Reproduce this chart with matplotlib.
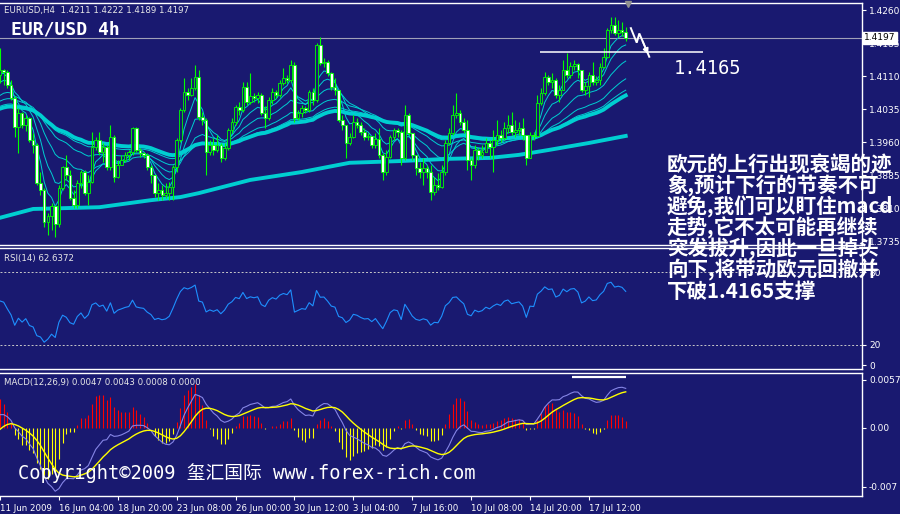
import matplotlib
matplotlib.use("Agg")
import matplotlib.pyplot as plt
import numpy as np

plt.rcParams['font.family'] = ['DejaVu Sans', 'Noto Sans CJK SC']

# ---- data ----
first_open = 1.4113
close = [
    1.4124, 1.4119, 1.4090, 1.4060, 1.3994, 1.4026, 1.3999, 1.4015, 1.3965, 1.3953,
    1.3867, 1.3851, 1.3778, 1.3792, 1.3815, 1.3774, 1.3856, 1.3903, 1.3885, 1.3833,
    1.3817, 1.3867, 1.3892, 1.3844, 1.3869, 1.3949, 1.3965, 1.3938, 1.3949, 1.3903,
    1.3972, 1.3881, 1.3908, 1.3919, 1.3931, 1.3938, 1.3992, 1.3942, 1.3935, 1.3931,
    1.3903, 1.3885, 1.3844, 1.3851, 1.3840, 1.3844, 1.3858, 1.3903, 1.3965, 1.4033,
    1.4074, 1.4067, 1.4083, 1.4108, 1.4017, 1.4010, 1.3938, 1.3953, 1.3942, 1.3953,
    1.3924, 1.3947, 1.3988, 1.4006, 1.4040, 1.4033, 1.4085, 1.4051, 1.4065, 1.4060,
    1.4067, 1.4026, 1.4015, 1.4056, 1.4074, 1.4067, 1.4094, 1.4106, 1.4101, 1.4135,
    1.4015, 1.4026, 1.4037, 1.4033, 1.4074, 1.4056, 1.4181, 1.4140, 1.4142, 1.4117,
    1.4085, 1.4078, 1.4010, 1.3999, 1.3958, 1.3972, 1.4006, 1.3999, 1.3983, 1.3972,
    1.3974, 1.3953, 1.3967, 1.3931, 1.3892, 1.3926, 1.3972, 1.3988, 1.3983, 1.3924,
    1.4022, 1.3981, 1.3931, 1.3901, 1.3892, 1.3901, 1.3892, 1.3847, 1.3862, 1.3858,
    1.3892, 1.3958, 1.3981, 1.4022, 1.4026, 1.4006, 1.3988, 1.3919, 1.3908, 1.3942,
    1.3931, 1.3938, 1.3958, 1.3949, 1.3965, 1.3976, 1.3969, 1.3992, 1.3999, 1.3983,
    1.3988, 1.3992, 1.3976, 1.3924, 1.3976, 1.3974, 1.4049, 1.4072, 1.4108, 1.4097,
    1.4101, 1.4067, 1.4078, 1.4124, 1.4113, 1.4133, 1.4137, 1.4124, 1.4078, 1.4088,
    1.4113, 1.4097, 1.4101, 1.4131, 1.4153, 1.4215, 1.4226, 1.4208, 1.4215, 1.4211,
    1.4197]
high = [
    1.4174, 1.4126, 1.4124, 1.4101, 1.4065, 1.4037, 1.4028, 1.4022, 1.4017, 1.3981,
    1.3958, 1.3892, 1.3856, 1.3799, 1.3822, 1.3817, 1.3862, 1.3906, 1.3931, 1.3897,
    1.3851, 1.3874, 1.3897, 1.3897, 1.3885, 1.3983, 1.3972, 1.3983, 1.3958, 1.3953,
    1.3999, 1.3976, 1.3919, 1.3931, 1.3938, 1.3942, 1.3994, 1.3994, 1.3947, 1.3938,
    1.3935, 1.3908, 1.3885, 1.3867, 1.3862, 1.3867, 1.3869, 1.3908, 1.3969, 1.4037,
    1.4106, 1.4083, 1.4106, 1.4135, 1.4124, 1.4028, 1.4015, 1.3965, 1.3969, 1.3976,
    1.3958, 1.3958, 1.3992, 1.4015, 1.4044, 1.4051, 1.4097, 1.4097, 1.4117, 1.4072,
    1.4074, 1.4072, 1.4042, 1.4063, 1.4083, 1.4078, 1.4101, 1.4128, 1.4113, 1.4147,
    1.4142, 1.4033, 1.4044, 1.4042, 1.4078, 1.4083, 1.4185, 1.4199, 1.4151, 1.4147,
    1.4119, 1.4106, 1.4078, 1.4022, 1.3999, 1.3981, 1.4022, 1.4015, 1.4006, 1.3992,
    1.3981, 1.3974, 1.3981, 1.3992, 1.3935, 1.3942, 1.3976, 1.3992, 1.3992, 1.3988,
    1.4044, 1.4026, 1.3981, 1.3931, 1.3915, 1.3924, 1.3908, 1.3908, 1.3881, 1.3890,
    1.3908, 1.3965, 1.3992, 1.4044, 1.4072, 1.4033, 1.4015, 1.4010, 1.3924, 1.3953,
    1.3947, 1.3953, 1.3969, 1.3965, 1.3988, 1.4010, 1.3988, 1.4006, 1.4022, 1.4028,
    1.4010, 1.4006, 1.4015, 1.3976, 1.3983, 1.3983, 1.4067, 1.4083, 1.4119, 1.4113,
    1.4117, 1.4106, 1.4090, 1.4147, 1.4163, 1.4142, 1.4147, 1.4140, 1.4124, 1.4097,
    1.4119, 1.4142, 1.4110, 1.4140, 1.4174, 1.4219, 1.4244, 1.4244, 1.4238, 1.4233,
    1.4222]
low = [
    1.4094, 1.4090, 1.4083, 1.4056, 1.3972, 1.3935, 1.3992, 1.3985, 1.3960, 1.3935,
    1.3862, 1.3840, 1.3767, 1.3749, 1.3760, 1.3744, 1.3767, 1.3851, 1.3874, 1.3828,
    1.3810, 1.3810, 1.3856, 1.3840, 1.3817, 1.3867, 1.3942, 1.3931, 1.3915, 1.3897,
    1.3897, 1.3869, 1.3878, 1.3908, 1.3915, 1.3919, 1.3931, 1.3938, 1.3926, 1.3924,
    1.3897, 1.3867, 1.3835, 1.3828, 1.3828, 1.3833, 1.3828, 1.3828, 1.3892, 1.3960,
    1.4028, 1.4056, 1.4065, 1.4078, 1.4010, 1.3999, 1.3885, 1.3931, 1.3931, 1.3938,
    1.3915, 1.3919, 1.3942, 1.3981, 1.3999, 1.4022, 1.4028, 1.4044, 1.4047, 1.4051,
    1.4049, 1.4022, 1.3992, 1.4010, 1.4047, 1.4060, 1.4063, 1.4090, 1.4094, 1.4097,
    1.4006, 1.4010, 1.4017, 1.4026, 1.4028, 1.4044, 1.4051, 1.4135, 1.4131, 1.4110,
    1.4078, 1.4067, 1.4006, 1.3988, 1.3924, 1.3953, 1.3969, 1.3992, 1.3976, 1.3965,
    1.3965, 1.3947, 1.3947, 1.3924, 1.3874, 1.3885, 1.3924, 1.3965, 1.3972, 1.3908,
    1.3919, 1.3976, 1.3919, 1.3885, 1.3878, 1.3862, 1.3878, 1.3828, 1.3840, 1.3851,
    1.3856, 1.3885, 1.3953, 1.3976, 1.4015, 1.3999, 1.3981, 1.3897, 1.3874, 1.3901,
    1.3919, 1.3924, 1.3938, 1.3924, 1.3892, 1.3953, 1.3960, 1.3965, 1.3981, 1.3976,
    1.3972, 1.3976, 1.3965, 1.3908, 1.3924, 1.3965, 1.3972, 1.4044, 1.4067, 1.4090,
    1.4083, 1.4060, 1.4051, 1.4078, 1.4106, 1.4106, 1.4124, 1.4106, 1.4074, 1.4067,
    1.4063, 1.4090, 1.4090, 1.4090, 1.4128, 1.4151, 1.4208, 1.4203, 1.4199, 1.4201,
    1.4189]

# slow moving average (thick lower line), read at sample bars
long_ma_bar = [0, 9, 18, 27, 41, 49, 54, 68, 82, 95, 109, 122, 133, 141, 149, 160, 170]
long_ma_val = [1.3788, 1.3808, 1.3810, 1.3812, 1.3828, 1.3835, 1.3844, 1.3874, 1.3892,
               1.3913, 1.3917, 1.3922, 1.3924, 1.3931, 1.3942, 1.3958, 1.3974]

# EMA ribbon: periods and starting values read at the left edge
ribbon_periods = [5, 10, 20, 35, 50]
ribbon_seeds = [1.4110, 1.4090, 1.4060, 1.4049, 1.4038]
mid_period, mid_seed = 60, 1.4033

x_label_bars = [0, 16, 32, 48, 64, 80, 96, 112, 128, 144, 160]
x_labels = ['11 Jun 2009', '16 Jun 04:00', '18 Jun 20:00', '23 Jun 08:00', '26 Jun 00:00',
            '30 Jun 12:00', '3 Jul 04:00', '7 Jul 16:00', '10 Jul 08:00', '14 Jul 20:00',
            '17 Jul 12:00']
price_ticks = [1.4260, 1.4185, 1.4110, 1.4035, 1.3960, 1.3885, 1.3810, 1.3735]
last_price = 1.4197
support = 1.4165
support_bars = [146.7, 191.0]
# zigzag arrow drawn by hand on the chart (bar, price)
arrow_bar = [171.4, 173.0, 173.7, 176.4]
arrow_px = [1.4219, 1.4186, 1.4207, 1.4154]
macd_mark_bars = [155.4, 170.0]
macd_mark_val = 0.0061

note_lines = ['欧元的上行出现衰竭的迹', '象,预计下行的节奏不可', '避免,我们可以盯住macd',
              '走势,它不太可能再继续', '突发拔升,因此一旦掉头', '向下,将带动欧元回撤并',
              '下破1.4165支撑']

BG = '#191970'
LIME = '#00ff00'
TURQ = '#00ced1'


def ema(values, period, seed):
    k = 2.0 / (period + 1)
    e, out = seed, []
    for v in values:
        e += k * (v - e)
        out.append(e)
    return np.array(out)


def rsi(values, period, prev, gain, loss):
    out = []
    for v in values:
        d = v - prev
        prev = v
        gain = (gain * (period - 1) + max(d, 0)) / period
        loss = (loss * (period - 1) + max(-d, 0)) / period
        out.append(100 - 100 / (1 + gain / loss))
    return np.array(out)


idx = np.arange(len(close))
c = np.array(close)
o = np.array([first_open] + close[:-1])
h = np.maximum(np.array(high), np.maximum(o, c))
l = np.minimum(np.array(low), np.minimum(o, c))

rsi_vals = rsi(close, 14, first_open, 0.0012, 0.0010)
macd_main = ema(close, 12, 1.4100) - ema(close, 26, 1.4085)
macd_sig = ema(macd_main, 9, -0.0006)
macd_hist = 2 * (macd_main - macd_sig)

# ---- figure ----
W, H = 900, 514
fig = plt.figure(figsize=(9, 5.14), dpi=100, facecolor=BG)


def pane(top, bottom):
    a = fig.add_axes([0, 1 - bottom / H, 862 / W, (bottom - top) / H], facecolor=BG)
    for s in ['top', 'bottom', 'right']:
        a.spines[s].set_color('white')
        a.spines[s].set_linewidth(1.0)
    a.spines['left'].set_visible(False)
    a.set_xlim(0, 234.2)
    a.tick_params(axis='x', bottom=False, labelbottom=False)
    a.tick_params(axis='y', left=False, labelleft=False, right=True, labelright=True,
                  colors='white', labelsize=6.5, length=3, pad=2)
    return a


ax1 = pane(3, 245)
ax2 = pane(248, 369)
ax3 = pane(373, 496)

# main pane
ax1.set_ylim(1.37261, 1.42762)
ax1.set_yticks(price_ticks)
ax1.set_yticklabels([f'{p:.4f}' for p in price_ticks])
ax1.axhline(last_price, color='#a0a0b8', lw=0.8, zorder=1)
ax1.plot(long_ma_bar, long_ma_val, color=TURQ, lw=2.8, zorder=2)
for per, sd in zip(ribbon_periods, ribbon_seeds):
    ax1.plot(idx, ema(close, per, sd), color=TURQ, lw=0.7, zorder=2)
ax1.plot(idx, ema(close, mid_period, mid_seed), color=TURQ, lw=2.8, zorder=2)
ax1.vlines(idx, l, h, color=LIME, lw=0.8, zorder=3)
bull = c >= o
ax1.bar(idx[bull], np.maximum((c - o)[bull], 0.00003), bottom=o[bull], width=0.72,
        facecolor=BG, edgecolor=LIME, lw=0.6, zorder=4)
ax1.bar(idx[~bull], (o - c)[~bull], bottom=c[~bull], width=0.72,
        facecolor='white', edgecolor=LIME, lw=0.6, zorder=4)
ax1.hlines(support, support_bars[0], support_bars[1], color='white', lw=1.1, zorder=5)
ax1.plot(arrow_bar, arrow_px, color='white', lw=1.4, zorder=6, solid_joinstyle='miter')
ax1.annotate('', xy=(arrow_bar[-1], arrow_px[-1]), xytext=(arrow_bar[-2] + 0.6, arrow_px[-2] - 0.0012),
             arrowprops=dict(arrowstyle='-|>', color='white', lw=1.2, mutation_scale=8), zorder=6)
ax1.plot([170.7], [1.4275], marker='v', color='#909090', ms=5, clip_on=False, zorder=6)
ax1.text(1 + 2 / 862, last_price, f'{last_price:.4f}', transform=ax1.get_yaxis_transform(),
         ha='left', va='center', fontsize=6.5, color='black', clip_on=False, zorder=10,
         bbox=dict(boxstyle='square,pad=0.15', facecolor='white', edgecolor='white'))

# RSI pane
ax2.set_ylim(0, 100)
ax2.plot(idx, rsi_vals, color='#1e90ff', lw=0.8)
for lv in (80, 20):
    ax2.axhline(lv, color='#c8c8c8', lw=0.7, ls=(0, (2, 2)))
ax2.set_yticks([80, 20, 3])
ax2.set_yticklabels(['80', '20', '0'])

# MACD pane
ax3.set_ylim(-0.00808, 0.00653)
cols = np.where(macd_hist >= 0, '#ff0000', '#ffff00')
ax3.vlines(idx, 0, macd_hist, colors=cols, lw=0.8)
ax3.plot(idx, macd_main, color='#8585e6', lw=0.8)
ax3.plot(idx, macd_sig, color='#ffff00', lw=1.0)
ax3.hlines(macd_mark_val, macd_mark_bars[0], macd_mark_bars[1], color='white', lw=1.6)
ax3.set_yticks([0.0057, 0.0, -0.007])
ax3.set_yticklabels(['0.0057', '0.00', '-0.007'])
ax3.set_xticks(x_label_bars)
ax3.set_xticklabels(x_labels, ha='left')
ax3.tick_params(axis='x', bottom=True, labelbottom=True, colors='white', labelsize=6.2,
                length=3, pad=3, direction='out')


def ftext(x, y, s, **kw):
    fig.text(x / W, 1 - y / H, s, **kw)


ftext(4, 10, 'EURUSD,H4  1.4211 1.4222 1.4189 1.4197', fontsize=6.2, color='#e8e8e8', va='center')
ftext(11, 30, 'EUR/USD 4h', fontsize=13, color='white', va='center',
      family=['DejaVu Sans Mono'], weight='bold')
ftext(674, 68, '1.4165', fontsize=13.5, color='white', va='center', family=['DejaVu Sans Mono'])
ftext(4, 258, 'RSI(14) 62.6372', fontsize=6.2, color='#e8e8e8', va='center')
ftext(4, 383, 'MACD(12,26,9) 0.0047 0.0043 0.0008 0.0000', fontsize=6.2, color='#e8e8e8',
      va='center')
ftext(18, 473, 'Copyright©2009 玺汇国际 www.forex-rich.com', fontsize=13.5, color='white',
      va='center', family=['DejaVu Sans Mono', 'Noto Sans CJK SC'])
for k, line in enumerate(note_lines):
    ftext(667, 165 + 21 * k, line, fontsize=14.8, color='white', va='center', weight='bold',
          family=['Noto Sans CJK SC', 'DejaVu Sans'], zorder=20)

fig.savefig('out.png', dpi=100, facecolor=BG)
